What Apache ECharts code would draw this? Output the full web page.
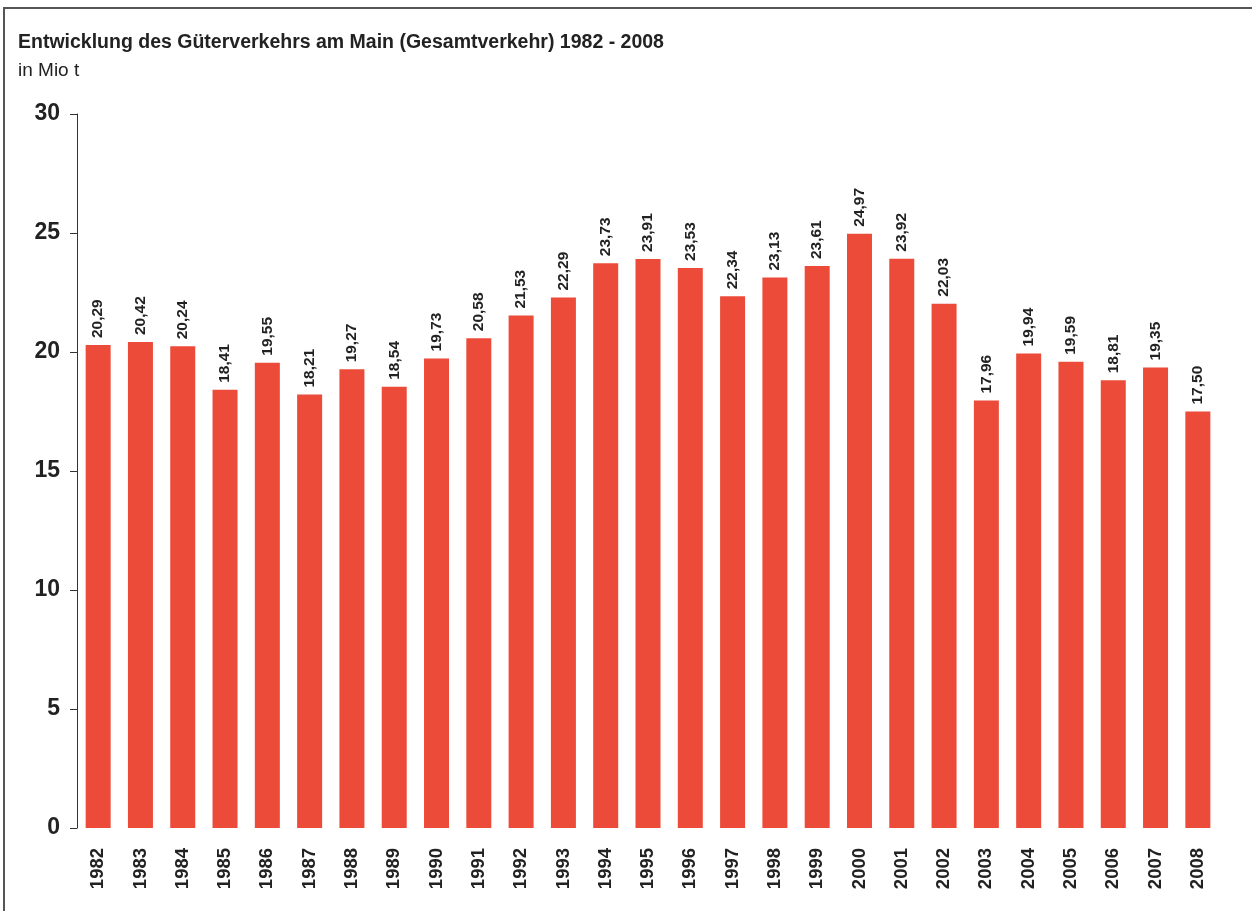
<!DOCTYPE html>
<html>
<head>
<meta charset="utf-8">
<script src="https://cdn.jsdelivr.net/npm/echarts@6/dist/echarts.min.js"></script>
<style>
  html, body { margin: 0; padding: 0; background: #fff; }
  #chart { width: 1252px; height: 911px; }
</style>
</head>
<body>
<div id="chart"></div>
<script>
// Jahre und Gesamtverkehr in Mio t
var years = ["1982", "1983", "1984", "1985", "1986", "1987", "1988", "1989", "1990",
  "1991", "1992", "1993", "1994", "1995", "1996", "1997", "1998", "1999", "2000",
  "2001", "2002", "2003", "2004", "2005", "2006", "2007", "2008"];
var tonnage = [20.29, 20.42, 20.24, 18.41, 19.55, 18.21, 19.27, 18.54, 19.73,
  20.58, 21.53, 22.29, 23.73, 23.91, 23.53, 22.34, 23.13, 23.61, 24.97,
  23.92, 22.03, 17.96, 19.94, 19.59, 18.81, 19.35, 17.50];

var sans = "'Liberation Sans', Arial, sans-serif";

var chart = echarts.init(document.getElementById("chart"));

var option = {
  backgroundColor: "#fff",
  animation: false,
  title: {
    text: "Entwicklung des Güterverkehrs am Main (Gesamtverkehr) 1982 - 2008",
    subtext: "in Mio t",
    left: 18,
    top: 33,
    padding: 0,
    itemGap: 8,
    textStyle: { fontFamily: sans, fontSize: 19.5, fontWeight: "bold", color: "#222" },
    subtextStyle: { fontFamily: sans, fontSize: 19, color: "#222" }
  },
  graphic: [{
    type: "rect",
    shape: { x: 4, y: 8, width: 1400, height: 1000 },
    style: { fill: "none", stroke: "#555", lineWidth: 2 }
  }],
  grid: { left: 77, right: 33, top: 114, bottom: 83 },
  xAxis: {
    type: "category",
    data: years,
    axisLine: { show: false },
    axisTick: { show: false },
    axisLabel: {
      rotate: 90,
      margin: 20,
      fontFamily: sans,
      fontSize: 18.5,
      fontWeight: "bold",
      color: "#222"
    }
  },
  yAxis: {
    type: "value",
    min: 0,
    max: 30,
    interval: 5,
    splitLine: { show: false },
    axisLine: { show: true, lineStyle: { color: "#333", width: 1 } },
    axisTick: { show: true, length: 7, lineStyle: { color: "#333" } },
    axisLabel: {
      margin: 17,
      fontFamily: sans,
      fontSize: 23,
      fontWeight: "bold",
      color: "#222"
    }
  },
  series: [{
    type: "bar",
    data: tonnage,
    barWidth: 25,
    itemStyle: { color: "#EC4B39" },
    label: {
      show: true,
      position: "top",
      rotate: 90,
      align: "left",
      verticalAlign: "middle",
      distance: 7,
      fontFamily: sans,
      fontSize: 15.5,
      fontWeight: "bold",
      color: "#222",
      formatter: function (p) {
        return p.value.toFixed(2).replace(".", ",");
      }
    }
  }]
};

chart.setOption(option);
</script>
</body>
</html>
